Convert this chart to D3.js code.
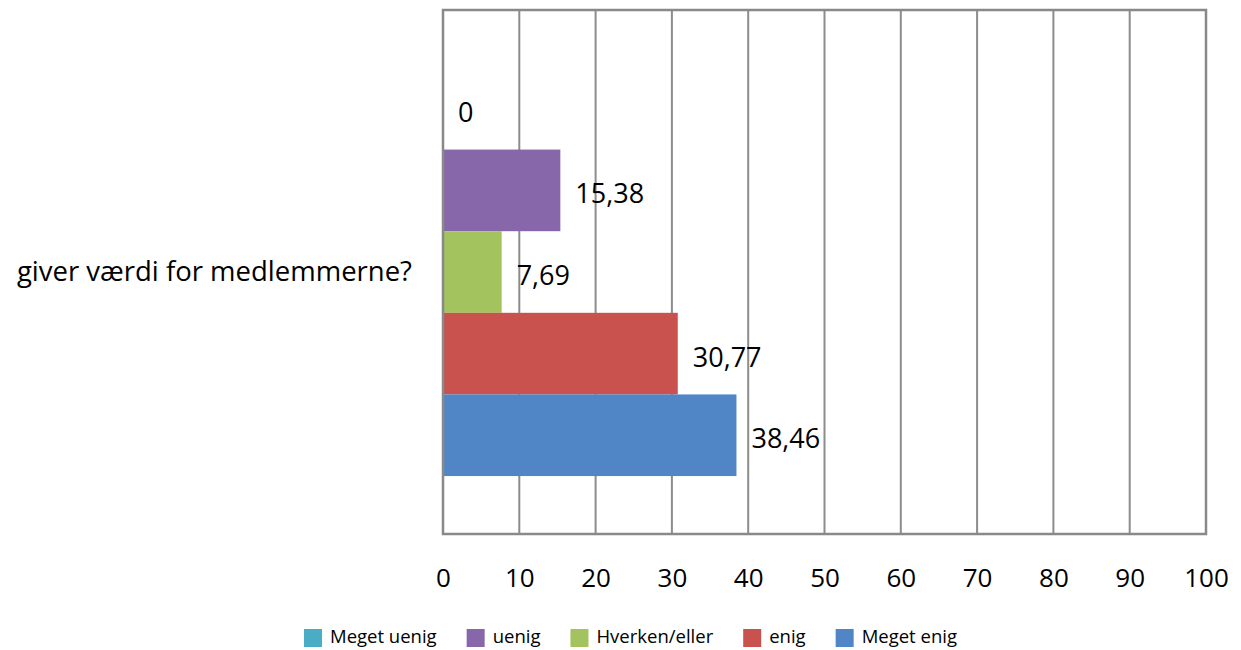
<!DOCTYPE html>
<html>
<head>
<meta charset="utf-8">
<script src="https://cdn.jsdelivr.net/npm/d3@7"></script>
<style>
  body { margin: 0; background: #fff; }
  text { font-family: "Open Sans", "Noto Sans", sans-serif; fill: #000; }
</style>
</head>
<body>
<svg id="chart" width="1241" height="650"></svg>
<script>
// data
var category = "giver værdi for medlemmerne?";
var seriesNames = ["Meget uenig", "uenig", "Hverken/eller", "enig", "Meget enig"];
var seriesValues = [0, 15.38, 7.69, 30.77, 38.46];
var seriesColors = ["#4BACC6", "#8767A9", "#A2C35E", "#C9524F", "#5086C6"];
var xTicks = [0, 10, 20, 30, 40, 50, 60, 70, 80, 90, 100];

var svg = d3.select("#chart");
var plot = {left: 443, right: 1206, top: 10, bottom: 534};

var x = d3.scaleLinear().domain([0, 100]).range([plot.left, plot.right]);

// one category, the series stack top to bottom inside it
var y = d3.scaleBand()
    .domain(seriesNames)
    .range([plot.top, plot.bottom])
    .paddingInner(0)
    .paddingOuter(0.71);

var rows = seriesNames.map(function (name, i) {
    return {name: name, value: seriesValues[i], color: seriesColors[i]};
});

// vertical gridlines
svg.append("g")
    .selectAll("line")
    .data(xTicks.slice(1, -1))
    .enter().append("line")
    .attr("x1", function (d) { return x(d); })
    .attr("x2", function (d) { return x(d); })
    .attr("y1", plot.top)
    .attr("y2", plot.bottom)
    .attr("stroke", "#8c8c8c")
    .attr("stroke-width", 2);

// bars
svg.append("g")
    .selectAll("rect")
    .data(rows)
    .enter().append("rect")
    .attr("x", x(0))
    .attr("y", function (d) { return y(d.name); })
    .attr("width", function (d) { return x(d.value) - x(0); })
    .attr("height", y.bandwidth())
    .attr("fill", function (d) { return d.color; });

// frame
svg.append("rect")
    .attr("x", plot.left)
    .attr("y", plot.top)
    .attr("width", plot.right - plot.left)
    .attr("height", plot.bottom - plot.top)
    .attr("fill", "none")
    .attr("stroke", "#898989")
    .attr("stroke-width", 2.5);

// value labels
svg.append("g")
    .selectAll("text")
    .data(rows)
    .enter().append("text")
    .attr("x", function (d) { return x(d.value) + 15; })
    .attr("y", function (d) { return y(d.name) + y.bandwidth() / 2 + 13; })
    .style("font-size", "27px")
    .text(function (d) { return String(d.value).replace(".", ","); });

// x axis tick labels
var axis = d3.axisBottom(x).tickValues(xTicks).tickSize(0).tickPadding(0)
    .tickFormat(d3.format("d"));
var axisG = svg.append("g")
    .attr("transform", "translate(0," + plot.bottom + ")")
    .call(axis);
axisG.select(".domain").remove();
axisG.selectAll("text")
    .attr("y", 53)
    .attr("dy", 0)
    .style("font-size", "26px")
    .style("font-family", "'Open Sans', 'Noto Sans', sans-serif")
    .attr("fill", "#000");

// category label
svg.append("text")
    .attr("x", 412)
    .attr("y", (plot.top + plot.bottom) / 2 + 9)
    .attr("text-anchor", "end")
    .style("font-size", "27.5px")
    .text(category);

// legend
var legend = svg.append("g");
var lx = 304;
rows.forEach(function (d) {
    legend.append("rect")
        .attr("x", lx).attr("y", 629)
        .attr("width", 18).attr("height", 18)
        .attr("fill", d.color);
    var t = legend.append("text")
        .attr("x", lx + 26)
        .attr("y", 643)
        .style("font-size", "18.5px")
        .text(d.name);
    lx += 26 + t.node().getComputedTextLength() + 30;
});
</script>
</body>
</html>
